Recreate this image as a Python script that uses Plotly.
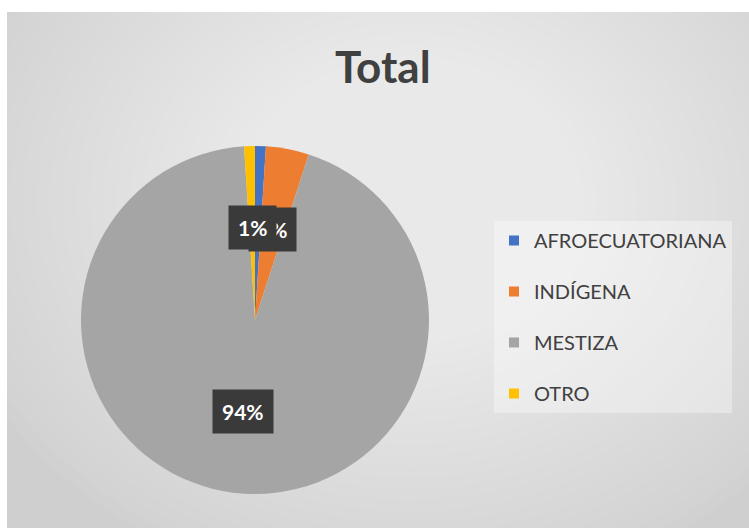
import math
import plotly.graph_objects as go

categories = ["AFROECUATORIANA", "INDÍGENA", "MESTIZA", "OTRO"]
values = [1, 4, 94, 1]
colors = ["#4472C4", "#ED7D31", "#A5A5A5", "#FFC000"]
label_text = ["1%", "4%", "94%", "1%"]

W, H = 749, 528
cx, cy, R = 255, 320, 174  # pie centre / radius in px

fig = go.Figure()

fig.add_trace(go.Pie(
    labels=categories, values=values, sort=False, direction="clockwise",
    rotation=0, marker=dict(colors=colors, line=dict(width=0)),
    textinfo="none", hoverinfo="label+percent", showlegend=False,
    domain=dict(x=[(cx - R) / W, (cx + R) / W], y=[1 - (cy + R) / H, 1 - (cy - R) / H]),
))

# legend entries (one group each so spacing can be controlled)
for name, col in zip(categories, colors):
    fig.add_trace(go.Scatter(
        x=[None], y=[None], mode="markers", name=name, legendgroup=name,
        marker=dict(symbol="square", size=10, color=col),
    ))

# data labels computed from slice mid-angles
total = sum(values)
cum = 0
label_pos = []
for v in values:
    mid = (cum + v / 2) / total
    cum += v
    ang = 2 * math.pi * mid
    r = 0.53 * R
    label_pos.append((cx + r * math.sin(ang), cy - r * math.cos(ang)))

annotations = []
for i in [1, 3, 2]:  # AFROECUATORIANA label is fully hidden behind OTRO's in the reference
    px, py = label_pos[i]
    annotations.append(dict(
        x=px / W, y=1 - py / H, xref="paper", yref="paper", text="<b>%s</b>" % label_text[i],
        showarrow=False, font=dict(family="Lato", size=21, color="white"),
        bgcolor="#3a3a3a", borderpad=9, xanchor="center", yanchor="middle",
    ))

annotations.append(dict(
    x=383 / W, y=1 - 66 / H, xref="paper", yref="paper", text="<b>Total</b>",
    showarrow=False, font=dict(family="Lato", size=44, color="#404040"),
    xanchor="center", yanchor="middle",
))

# background: base rect plus layered ellipses approximating a radial gradient
shapes = [dict(type="rect", xref="paper", yref="paper", x0=7 / W, x1=1, y0=0, y1=1 - 12 / H,
               fillcolor="#cfcfcf", line=dict(width=0), layer="below")]
gx, gy = 410, 200
N = 36
for k in range(N):
    f = 1 - k / N
    rx, ry = 480 * f, 400 * f
    shapes.append(dict(type="circle", xref="paper", yref="paper",
                       x0=(gx - rx) / W, x1=(gx + rx) / W,
                       y0=1 - (gy + ry) / H, y1=1 - (gy - ry) / H,
                       fillcolor="white", opacity=0.045, line=dict(width=0), layer="below"))
# clip back the strips outside the chart area
shapes.append(dict(type="rect", xref="paper", yref="paper", x0=0, x1=7 / W, y0=0, y1=1,
                   fillcolor="white", line=dict(width=0), layer="below"))
shapes.append(dict(type="rect", xref="paper", yref="paper", x0=0, x1=1, y0=1 - 12 / H, y1=1,
                   fillcolor="white", line=dict(width=0), layer="below"))

fig.update_layout(
    width=W, height=H, margin=dict(l=0, r=0, t=0, b=0),
    paper_bgcolor="white", plot_bgcolor="rgba(0,0,0,0)",
    xaxis=dict(visible=False), yaxis=dict(visible=False),
    shapes=shapes, annotations=annotations,
    legend=dict(x=494 / W, y=1 - 221 / H, xanchor="left", yanchor="top",
                bgcolor="rgba(255,255,255,0.35)", traceorder="grouped", tracegroupgap=22,
                font=dict(family="Lato", size=20, color="#404040"),
                itemwidth=30),
)

fig.write_html("out.html", config={"displayModeBar": False},
               post_script="document.body.style.margin='0';")
